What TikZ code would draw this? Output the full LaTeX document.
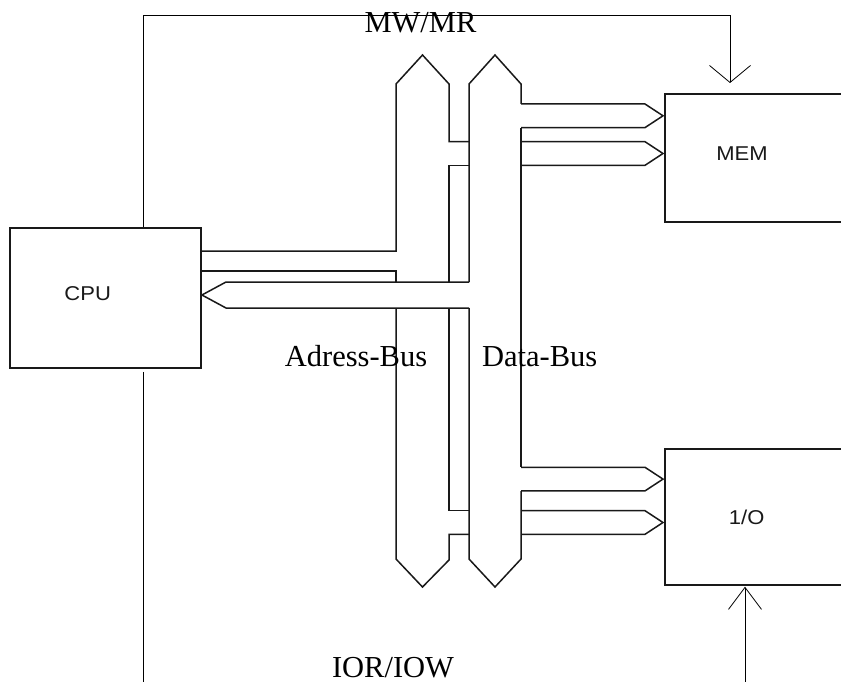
\documentclass[tikz,border=0pt]{standalone}
\usepackage{fontspec}
\setmainfont{Liberation Serif}
\newfontfamily\unitfont[FakeStretch=1.1]{Liberation Sans}
\usetikzlibrary{arrows.meta, calc}
\definecolor{linegray}{RGB}{25,25,25}
\tikzset{
  % unit boxes (CPU, memory, I/O)
  unitbox/.style={
    rectangle, draw=linegray, line width=1.9pt, inner sep=0pt
  },
  unitlabel/.style={font=\unitfont\fontsize{20}{24}\selectfont, color=linegray,
    anchor=base, inner sep=0pt},
  % bus outlines
  busline/.style={draw=linegray, line width=1.5pt, line join=miter},
  % control signals
  sigline/.style={draw=black, line width=0.8pt},
  bustext/.style={font=\fontsize{30.5}{36}\selectfont, anchor=base, inner sep=0pt}
}
\begin{document}
\begin{tikzpicture}[x=1pt, y=-1pt]
  \path[use as bounding box, fill=white] (0,0) rectangle (841,682);
  \clip (0,0) rectangle (841,682);

  % Units
  \node[unitbox, minimum width=191pt, minimum height=140pt] (cpu) at (105.5,298) {};
  \node[unitbox, minimum width=236pt, minimum height=128pt, anchor=north west] (mem) at (664,93) {};
  \node[unitbox, minimum width=236pt, minimum height=136pt, anchor=north west] (io) at (664,448.3) {};

  \node[unitlabel] (cpulabel) at (87.7,300.7) {CPU};
  \node[unitlabel] (memlabel) at (742,160.7) {MEM};
  \node[unitlabel] (iolabel) at (746.7,524) {1/O};

  % Address bus
  \draw[busline] (cpu.east |- 0,251) -- (396,251) -- (396,84) -- (422.5,55)
    -- (449,84) -- (449,141.7) -- (469,141.7);
  \draw[busline] (cpu.east |- 0,271) -- (396,271) -- (396,282);
  \draw[busline] (469,165.3) -- (449,165.3) -- (449,282);
  \draw[busline] (449,308) -- (449,510.7) -- (469,510.7);
  \draw[busline] (396,308) -- (396,559) -- (422.5,587) -- (449,560)
    -- (449,534.3) -- (469,534.3);

  % Data bus
  \draw[busline] (469,282) -- (469,84) -- (495,55) -- (521,84) -- (521,104);
  \draw[busline] (521,128) -- (521,467.3);
  \draw[busline] (521,491) -- (521,559) -- (495,587) -- (469,559) -- (469,308);

  % Data bus -> CPU
  \draw[busline] (469,282) -- (226,282) -- ([yshift=3pt]cpu.east) -- (226,308) -- (469,308);

  % Branches to MEM and I/O
  \foreach \y in {104,141.7,467.3,510.7}
    \draw[busline] (521,\y) -- (645,\y) -- (663,\y+11.8) -- (645,\y+23.6) -- (521,\y+23.6);

  % Control signals
  \coordinate (mwtip) at (730,83);
  \coordinate (iotip) at (745,586.7);
  \draw[sigline, -{Straight Barb[length=17pt, width=41pt]}]
    ([xshift=37.5pt]cpu.north) -- ++(0,-211.3) -| (mwtip);
  \draw[sigline, -{Straight Barb[length=22pt, width=33pt]}]
    ([xshift=37.5pt, yshift=-3pt]cpu.south) -- ++(0,340) -| (iotip);

  % Labels
  \node[bustext] (mwmr) at (420.5,33) {MW/MR};
  \node[bustext] (adrlabel) at (356,366.7) {Adress-Bus};
  \node[bustext] (datalabel) at (539.7,366.7) {Data-Bus};
  \node[bustext] (iorw) at (393,677) {IOR/IOW};
\end{tikzpicture}
\end{document}
